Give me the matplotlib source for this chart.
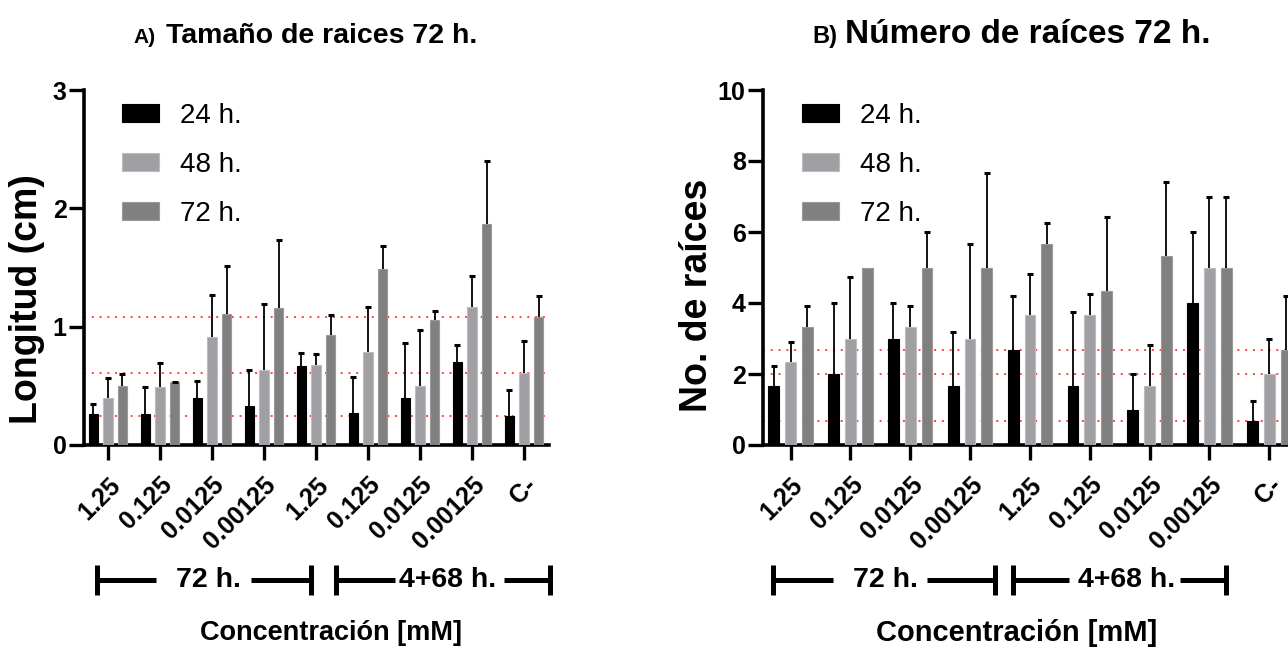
import matplotlib
matplotlib.use("Agg")
import matplotlib.pyplot as plt
import numpy as np

plt.rcParams['font.family'] = ['Liberation Sans', 'DejaVu Sans']

# concentration labels (9 groups, the last one is the negative control)
conc = ["1.25", "0.125", "0.0125", "0.00125", "1.25", "0.125", "0.0125", "0.00125", "C-"]
series = ["24 h.", "48 h.", "72 h."]
colors = ["#000000", "#A0A0A4", "#808080"]
edges = ["#000000", "#BDBDC0", "#9A9A9A"]

# A) root length (cm)
len24 = [0.26, 0.26, 0.40, 0.33, 0.67, 0.27, 0.40, 0.70, 0.245]
len24_err = [0.09, 0.23, 0.14, 0.30, 0.11, 0.305, 0.46, 0.145, 0.22]
len48 = [0.40, 0.49, 0.91, 0.63, 0.68, 0.79, 0.50, 1.17, 0.606]
len48_err = [0.17, 0.20, 0.36, 0.56, 0.09, 0.38, 0.47, 0.26, 0.27]
len72 = [0.50, 0.53, 1.11, 1.16, 0.93, 1.49, 1.06, 1.87, 1.079]
len72_err = [0.10, 0.005, 0.40, 0.57, 0.17, 0.19, 0.075, 0.53, 0.18]

# B) number of roots
num24 = [1.667, 2.0, 3.0, 1.667, 2.667, 1.667, 1.0, 4.0, 0.667]
num24_err = [0.57, 2.0, 1.0, 1.53, 1.53, 2.08, 1.0, 2.0, 0.58]
num48 = [2.333, 3.0, 3.333, 3.0, 3.667, 3.667, 1.667, 5.0, 2.0]
num48_err = [0.58, 1.73, 0.58, 2.65, 1.15, 0.58, 1.15, 2.0, 1.0]
num72 = [3.333, 5.0, 5.0, 5.0, 5.667, 4.333, 5.333, 5.0, 2.667]
num72_err = [0.58, 0.0, 1.0, 2.65, 0.58, 2.08, 2.08, 2.0, 1.53]

# treatment brackets (drawn in the layout, pixel positions): name, text centre, line pieces
bracketsA = [("72 h.", 208, 97, 156, 251, 311), ("4+68 h.", 448, 336, 395, 504, 550)]
bracketsB = [("72 h.", 885, 773, 833, 927, 995), ("4+68 h.", 1127, 1013, 1069, 1180, 1226)]

W = 1288.0
H = 650.0
fig = plt.figure(figsize=(W / 100, H / 100), dpi=100)
axA = fig.add_axes([84 / W, 205 / H, 465 / W, 355 / H])
axB = fig.add_axes([763 / W, 205 / H, 535 / W, 355 / H])

x = np.arange(len(conc))
off = 0.28
bw = 0.18


def fx(px):
    return px / W


def fy(py):
    return 1 - py / H


def draw_brackets(br):
    yl = 580
    for name, tc, a, b, c, d in br:
        for p, q in ((a, b), (c, d)):
            fig.add_artist(plt.Line2D([fx(p), fx(q)], [fy(yl), fy(yl)], color="black",
                                      lw=3.6, solid_capstyle="butt"))
        for xx in (a, d):
            fig.add_artist(plt.Line2D([fx(xx), fx(xx)], [fy(yl - 15), fy(yl + 15)],
                                      color="black", lw=3.6, solid_capstyle="butt"))
        fig.text(fx(tc), fy(yl), name, ha="center", va="center",
                 fontsize=20.5, fontweight="bold")


def draw_panel(ax, vals, errs, ymax, yticks, leg_x):
    for i, (v, e) in enumerate(zip(vals, errs)):
        xi = x + (i - 1) * off
        ax.bar(xi, v, width=bw, color=colors[i], edgecolor=edges[i],
               linewidth=0.8, label=series[i], zorder=3)
        v = np.array(v)
        e = np.array(e)
        m = e > 0
        ax.vlines(xi[m], v[m], v[m] + e[m], color="black", lw=1.3, zorder=4)
        ax.plot(xi[m], v[m] + e[m], ls="none", marker="_", ms=5,
                mew=2.2, color="black", zorder=4)
    # reference lines at the control values
    for i in range(3):
        ax.axhline(vals[i][-1], color="#FF4040", lw=1.4, ls=(0, (1, 3)), zorder=1)
    ax.set_xlim(-0.46, 8.48)
    ax.set_ylim(0, ymax)
    ax.set_yticks(yticks)
    ax.set_xticks(x)
    ax.set_xticklabels(conc, rotation=45, ha="right", va="top",
                       rotation_mode="anchor", fontsize=18, fontweight="bold")
    for t in ax.get_yticklabels():
        t.set_fontsize(18)
        t.set_fontweight("bold")
    for s in ["top", "right"]:
        ax.spines[s].set_visible(False)
    for s in ["left", "bottom"]:
        ax.spines[s].set_linewidth(2.6)
    ax.tick_params(axis="x", length=11, width=2.4, pad=9)
    ax.tick_params(axis="y", length=10.5, width=2.4, pad=2)

    ax.legend(loc="upper left", frameon=False, fontsize=20,
              handlelength=1.33, handleheight=0.65, labelspacing=0.83,
              handletextpad=0.75, borderpad=0, borderaxespad=0,
              bbox_to_anchor=(leg_x, 0.964))


draw_panel(axA, [len24, len48, len72], [len24_err, len48_err, len72_err],
           3, [0, 1, 2, 3], 0.082)
draw_panel(axB, [num24, num48, num72], [num24_err, num48_err, num72_err],
           10, [0, 2, 4, 6, 8, 10], 0.073)
draw_brackets(bracketsA)
draw_brackets(bracketsB)

# titles
fig.text(fx(133), fy(43), "A)", fontsize=15, fontweight="bold", va="baseline")
fig.text(fx(166), fy(43), "Tamaño de raices 72 h.", fontsize=20.5, fontweight="bold",
         va="baseline")
fig.text(fx(812), fy(43), "B)", fontsize=17, fontweight="bold", va="baseline")
fig.text(fx(845), fy(43), "Número de raíces 72 h.", fontsize=24, fontweight="bold", va="baseline")

# axis labels
fig.text(fx(27), fy(299), "Longitud (cm)", rotation=90, ha="center", va="center",
         fontsize=27, fontweight="bold")
fig.text(fx(697), fy(295), "No. de raíces", rotation=90, ha="center", va="center",
         fontsize=27, fontweight="bold")
fig.text(fx(331), fy(633), "Concentración [mM]", ha="center", va="center",
         fontsize=19.5, fontweight="bold")
fig.text(fx(1017), fy(633), "Concentración [mM]", ha="center", va="center",
         fontsize=21, fontweight="bold")

fig.savefig("out.png", dpi=100)
